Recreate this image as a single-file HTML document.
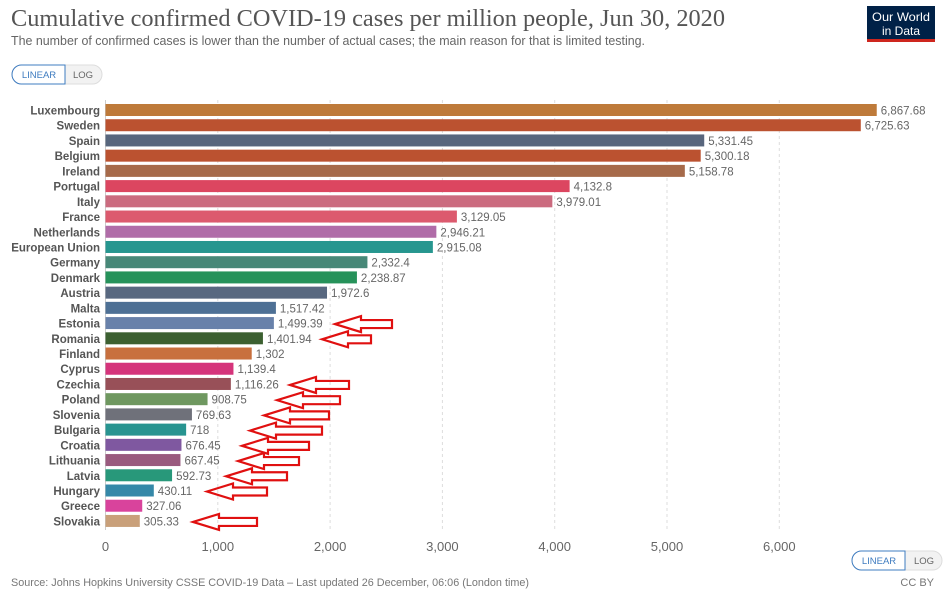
<!DOCTYPE html>
<html><head><meta charset="utf-8"><style>
body{margin:0;background:#fff;width:946px;height:594px;overflow:hidden;font-family:"Liberation Sans",sans-serif}
svg{display:block}
</style></head><body>
<svg id="chart" width="946" height="594" xmlns="http://www.w3.org/2000/svg">
<text x="11" y="26" font-family="Liberation Serif" font-size="24" fill="#555" textLength="714" lengthAdjust="spacingAndGlyphs">Cumulative confirmed COVID-19 cases per million people, Jun 30, 2020</text>
<text x="11" y="45" font-size="12.5" fill="#666" textLength="634" lengthAdjust="spacingAndGlyphs">The number of confirmed cases is lower than the number of actual cases; the main reason for that is limited testing.</text>
<g><rect x="867" y="6" width="68" height="36" fill="#002147"/><rect x="867" y="39" width="68" height="3" fill="#ce261e"/>
<text x="901" y="21" font-size="12" fill="#fff" text-anchor="middle" textLength="58" lengthAdjust="spacingAndGlyphs">Our World</text><text x="901" y="35" font-size="12" fill="#fff" text-anchor="middle">in Data</text></g>
<g><rect x="12" y="65" width="90" height="19" rx="9.5" fill="#f2f2f2" stroke="#ddd"/><path d="M21.5 65 H65 V84 H21.5 A9.5 9.5 0 0 1 21.5 65Z" fill="#fff" stroke="#3f7cc0"/>
<text x="39" y="78" font-size="9.5" fill="#3f7cc0" text-anchor="middle">LINEAR</text><text x="83" y="78" font-size="9.5" fill="#666" text-anchor="middle">LOG</text></g>
<g id="grid"></g><g id="bars"></g><g id="arrows"></g><g id="xaxis"></g>
<g><rect x="852" y="551" width="90" height="19" rx="9.5" fill="#f2f2f2" stroke="#ddd"/><path d="M861.5 551 H905 V570 H861.5 A9.5 9.5 0 0 1 861.5 551Z" fill="#fff" stroke="#3f7cc0"/>
<text x="879" y="564" font-size="9.5" fill="#3f7cc0" text-anchor="middle">LINEAR</text><text x="924" y="564" font-size="9.5" fill="#666" text-anchor="middle">LOG</text></g>
<text x="11" y="586" font-size="11" fill="#777" textLength="518" lengthAdjust="spacingAndGlyphs">Source: Johns Hopkins University CSSE COVID-19 Data – Last updated 26 December, 06:06 (London time)</text>
<text x="934" y="586" font-size="11" fill="#777" text-anchor="end">CC BY</text>
</svg>
<script>
const countries=["Luxembourg","Sweden","Spain","Belgium","Ireland","Portugal","Italy","France","Netherlands","European Union","Germany","Denmark","Austria","Malta","Estonia","Romania","Finland","Cyprus","Czechia","Poland","Slovenia","Bulgaria","Croatia","Lithuania","Latvia","Hungary","Greece","Slovakia"];
const values=[6867.68,6725.63,5331.45,5300.18,5158.78,4132.8,3979.01,3129.05,2946.21,2915.08,2332.4,2238.87,1972.6,1517.42,1499.39,1401.94,1302,1139.4,1116.26,908.75,769.63,718,676.45,667.45,592.73,430.11,327.06,305.33];
const valueLabels=["6,867.68","6,725.63","5,331.45","5,300.18","5,158.78","4,132.8","3,979.01","3,129.05","2,946.21","2,915.08","2,332.4","2,238.87","1,972.6","1,517.42","1,499.39","1,401.94","1,302","1,139.4","1,116.26","908.75","769.63","718","676.45","667.45","592.73","430.11","327.06","305.33"];
const colors=["#be7a3a","#bb5230","#58667d","#bb5230","#a66a4a","#dc4660","#cb6b7f","#dc5a6e","#b06ca8","#26968f","#478878","#26925a","#586880","#4e7095","#6881aa","#3c6031","#c8703e","#d5347b","#985058","#6f9860","#6f717a","#289490","#7f58a0","#9a5a7e","#28987a","#3588a8","#d9439c","#c9a07a"];
const ticks=[0,1000,2000,3000,4000,5000,6000];
const tickLabels=["0","1,000","2,000","3,000","4,000","5,000","6,000"];
const arrowRows=["Estonia","Romania","Czechia","Poland","Slovenia","Bulgaria","Croatia","Lithuania","Latvia","Hungary","Slovakia"];
const arrowTip=[335,322,290,277,264,250,242,238,226,207,193];
const arrowTail=[392,371,349,340,329,322,309,299,287,267,257];
const NS="http://www.w3.org/2000/svg";
const x=v=>105.5+v*0.1123;
const yTop=i=>104+i*15.22;
function mk(t,a,p){const e=document.createElementNS(NS,t);for(const k in a)e.setAttribute(k,a[k]);p.appendChild(e);return e;}
const grid=document.getElementById('grid'),bars=document.getElementById('bars'),xa=document.getElementById('xaxis'),ar=document.getElementById('arrows');
ticks.forEach((t,i)=>{
 const l=mk('line',{x1:x(t),x2:x(t),y1:100,y2:530,stroke:i?'#ddd':'#ccc','stroke-dasharray':i?'3,3':''},grid);
 
 
 const tx=mk('text',{x:x(t),y:551,'font-size':13,fill:'#666','text-anchor':'middle'},xa);tx.textContent=tickLabels[i];
 
 
});
countries.forEach((c,i)=>{
 const y=yTop(i);
 const lb=mk('text',{x:100,y:y+10.5,'font-size':11.5,'font-weight':'bold',fill:'#555','text-anchor':'end'},bars);lb.textContent=c;
 
 
 const r=mk('rect',{x:x(0),y:y,width:x(values[i])-x(0),height:12,fill:colors[i]},bars);
 
 
 const vt=mk('text',{x:x(values[i])+4,y:y+10.5,'font-size':11.5,fill:'#666'},bars);vt.textContent=valueLabels[i];
 
 
});
arrowRows.forEach((c,k)=>{
 const i=countries.indexOf(c);const cy=yTop(i)+7;
 const tip=arrowTip[k],tail=arrowTail[k],h=tip+26;
 const p=mk('polygon',{points:`${tip},${cy} ${h},${cy-8} ${h},${cy-4} ${tail},${cy-4} ${tail},${cy+4} ${h},${cy+4} ${h},${cy+8}`,fill:'none',stroke:'#e01010','stroke-width':2.2},ar);
 
 
});
</script>
</body></html>
